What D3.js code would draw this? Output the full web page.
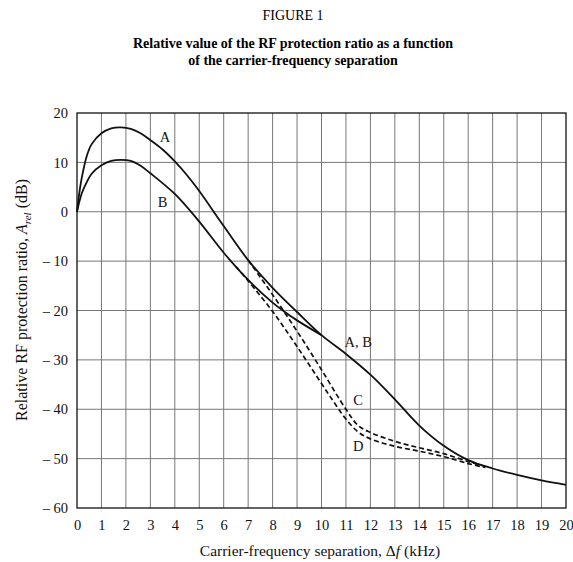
<!DOCTYPE html>
<html>
<head>
<meta charset="utf-8">
<script src="https://cdn.jsdelivr.net/npm/d3@7"></script>
<style>
  body { margin: 0; background: #fff; }
  svg { font-family: "Liberation Serif", "DejaVu Serif", serif; }
</style>
</head>
<body>
<script>
// curve data (kHz, dB)
const curveAx = [0, 0.1, 0.2, 0.4, 0.6, 1, 1.4, 1.8, 2.2, 2.6, 3, 3.5, 4, 4.5, 5, 6, 7, 8, 9, 10, 11, 12, 13, 14, 15, 16, 17, 18, 19, 20];
const curveAy = [0, 4, 7, 11.3, 13.7, 15.9, 16.9, 17.1, 16.8, 15.9, 14.5, 12.6, 10.2, 7.4, 4.2, -2.9, -9.8, -15.4, -20.3, -25, -28.8, -33, -38, -43.3, -47.4, -50.3, -52, -53.3, -54.4, -55.3];

const curveBx = [0, 0.2, 0.4, 0.6, 1, 1.4, 1.8, 2.2, 2.6, 3, 4, 5, 6, 7, 8, 8.5, 9, 10];
const curveBy = [0, 3.8, 6, 7.7, 9.4, 10.3, 10.5, 10.3, 9.3, 7.8, 3.6, -2, -8.3, -13.8, -18.4, -20.3, -22, -25];

const curveCx = [7, 8, 9, 10, 11, 11.5, 12, 13, 14, 15, 16, 16.7];
const curveCy = [-9.8, -16.8, -24.2, -32, -40, -43.3, -44.7, -46.5, -47.8, -49, -50.6, -51.6];

const curveDx = [6.5, 7, 8, 9, 10, 10.5, 11, 11.5, 12, 13, 14, 15, 16, 16.7];
const curveDy = [-11.1, -14, -20.2, -27.3, -34.8, -38.5, -42, -44.6, -46, -47.5, -48.5, -49.6, -51, -51.8];

const xTicks = d3.range(0, 21, 1);
const yTicks = [20, 10, 0, -10, -20, -30, -40, -50, -60];

const curveLabels = [
  {text: "A", x: 3.6, y: 15.2},
  {text: "B", x: 3.5, y: 1.9},
  {text: "A, B", x: 11.5, y: -26.3},
  {text: "C", x: 11.5, y: -38.2},
  {text: "D", x: 11.5, y: -47.5}
];

var width = 573, height = 562;
var margin = {top: 113, right: 7, bottom: 54, left: 77};

var svg = d3.select("body").append("svg")
  .attr("width", width)
  .attr("height", height);

var x = d3.scaleLinear().domain([0, 20]).range([margin.left, width - margin.right]);
var y = d3.scaleLinear().domain([-60, 20]).range([height - margin.bottom, margin.top]);

// titles
svg.append("text")
  .attr("x", 293).attr("y", 20)
  .attr("text-anchor", "middle")
  .style("font-size", "14px")
  .text("FIGURE 1");

svg.append("text")
  .attr("x", 293).attr("y", 48)
  .attr("text-anchor", "middle")
  .style("font-size", "14px").style("font-weight", "bold")
  .text("Relative value of the RF protection ratio as a function");

svg.append("text")
  .attr("x", 293).attr("y", 65)
  .attr("text-anchor", "middle")
  .style("font-size", "14px").style("font-weight", "bold")
  .text("of the carrier-frequency separation");

// grid
var grid = svg.append("g").attr("stroke", "#777").attr("stroke-width", 1);
grid.selectAll("line.v")
  .data(xTicks.slice(1, -1))
  .enter().append("line")
  .attr("x1", d => x(d)).attr("x2", d => x(d))
  .attr("y1", y(20)).attr("y2", y(-60));
grid.selectAll("line.h")
  .data(yTicks.slice(1, -1))
  .enter().append("line")
  .attr("x1", x(0)).attr("x2", x(20))
  .attr("y1", d => y(d)).attr("y2", d => y(d));

svg.append("rect")
  .attr("x", x(0)).attr("y", y(20))
  .attr("width", x(20) - x(0)).attr("height", y(-60) - y(20))
  .attr("fill", "none").attr("stroke", "#111").attr("stroke-width", 1.3);

// axes
var xAxis = svg.append("g")
  .attr("transform", `translate(0,${y(-60)})`)
  .call(d3.axisBottom(x).tickValues(xTicks).tickSize(0).tickPadding(12));
xAxis.select(".domain").remove();
xAxis.selectAll("text").style("font-size", "14.5px").style("font-family", "Liberation Serif").attr("fill", "#111");

var yAxis = svg.append("g")
  .attr("transform", `translate(${x(0)},0)`)
  .call(d3.axisLeft(y).tickValues(yTicks).tickSize(0).tickPadding(9)
    .tickFormat(d => d < 0 ? "\u2013 " + (-d) : d));
yAxis.select(".domain").remove();
yAxis.selectAll("text").style("font-size", "14.5px").style("font-family", "Liberation Serif").attr("fill", "#111");

// axis titles
var xt = svg.append("text")
  .attr("x", 320).attr("y", 556)
  .attr("text-anchor", "middle")
  .style("font-size", "15.5px").attr("fill", "#111");
xt.append("tspan").text("Carrier-frequency separation, \u0394");
xt.append("tspan").style("font-style", "italic").text("f");
xt.append("tspan").text(" (kHz)");

var yt = svg.append("text")
  .attr("transform", "translate(27,300) rotate(-90)")
  .attr("text-anchor", "middle")
  .style("font-size", "16px").attr("fill", "#111");
yt.append("tspan").text("Relative RF protection ratio, ");
yt.append("tspan").style("font-style", "italic").text("A");
yt.append("tspan").style("font-style", "italic").style("font-size", "11px").attr("dy", 4).text("rel");
yt.append("tspan").attr("dy", -4).text(" (dB)");

// curves
var line = d3.line()
  .x(d => x(d[0]))
  .y(d => y(d[1]))
  .curve(d3.curveCatmullRom.alpha(0.5));

function drawCurve(xs, ys, dashed) {
  svg.append("path")
    .datum(d3.zip(xs, ys))
    .attr("d", line)
    .attr("fill", "none")
    .attr("stroke", "#111")
    .attr("stroke-width", dashed ? 1.7 : 1.8)
    .attr("stroke-dasharray", dashed ? "5,3" : null);
}

drawCurve(curveAx, curveAy, false);
drawCurve(curveBx, curveBy, false);
drawCurve(curveCx, curveCy, true);
drawCurve(curveDx, curveDy, true);

svg.selectAll("text.curve-label")
  .data(curveLabels)
  .enter().append("text")
  .attr("class", "curve-label")
  .attr("x", d => x(d.x))
  .attr("y", d => y(d.y))
  .attr("dy", "0.35em")
  .attr("text-anchor", "middle")
  .style("font-size", "14.5px")
  .attr("fill", "#111")
  .text(d => d.text);
</script>
</body>
</html>
